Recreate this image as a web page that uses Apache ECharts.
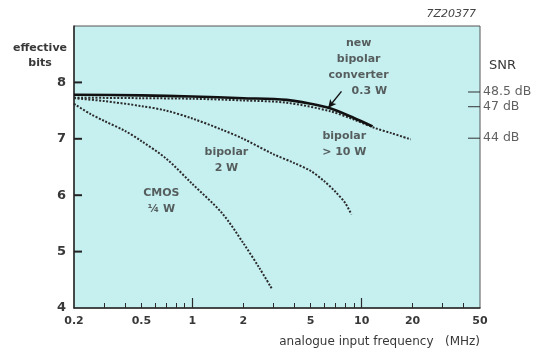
<!DOCTYPE html>
<html>
<head>
<meta charset="utf-8">
<script src="https://cdn.jsdelivr.net/npm/echarts@6/dist/echarts.min.js"></script>
<style>
  html, body { margin: 0; padding: 0; background: #ffffff; }
  #chart { width: 538px; height: 349px; }
</style>
</head>
<body>
<div id="chart"></div>
<script>
// Effective bits versus analogue input frequency (MHz)
const freqLabels = [0.2, 0.5, 1, 2, 5, 10, 20, 50];
const freqMinorTicks = [0.3, 0.4, 0.5, 0.6, 0.7, 0.8, 0.9, 2, 3, 4, 5, 6, 7, 8, 9, 20, 30, 40];
const freqMajorTicks = [1, 10];
const bitsTicks = [5, 6, 7, 8];

const newBipolarF = [0.2, 0.5, 1, 2, 3.6, 5, 6.5, 9, 11.6];
const newBipolarBits = [7.78, 7.77, 7.75, 7.72, 7.69, 7.62, 7.54, 7.37, 7.22];

const bipolarHighF = [0.2, 0.5, 1, 2, 3.6, 6.5, 9, 12, 15, 19.5];
const bipolarHighBits = [7.73, 7.72, 7.71, 7.68, 7.64, 7.49, 7.34, 7.19, 7.1, 6.99];

const bipolar2F = [0.2, 0.3, 0.5, 0.7, 1, 1.5, 2, 3, 4, 5, 6, 7, 8, 8.7];
const bipolar2Bits = [7.72, 7.67, 7.58, 7.5, 7.36, 7.16, 7.0, 6.73, 6.57, 6.43, 6.25, 6.06, 5.86, 5.66];

const cmosF = [0.2, 0.25, 0.3, 0.4, 0.5, 0.7, 1, 1.5, 2, 2.5, 2.95];
const cmosBits = [7.62, 7.44, 7.32, 7.14, 6.96, 6.65, 6.2, 5.68, 5.15, 4.7, 4.34];

// SNR scale on the right edge
const snrLabels = ['48.5 dB', '47 dB', '44 dB'];
const snrBits = [7.83, 7.57, 7.01];

// Curve captions
const noteText = ['new\nbipolar\nconverter', '0.3 W', 'bipolar\n> 10 W', 'bipolar\n2 W', 'CMOS\n¼ W'];
const noteF = [9.6, 11.1, 7.9, 1.59, 0.656];
const noteBits = [8.41, 7.84, 6.91, 6.62, 5.89];

// Pointer from "0.3 W" to the new converter curve
const arrowF = [7.6, 6.35];
const arrowBits = [7.84, 7.55];

const pairs = (xs, ys) => xs.map((x, i) => [x, ys[i]]);
const ink = '#2a2a2a';
const textInk = '#383838';
const font = 'DejaVu Sans';
const freqMin = freqLabels[0];
const freqMax = freqLabels[freqLabels.length - 1];

const chart = echarts.init(document.getElementById('chart'), null, { renderer: 'canvas' });

const dotted = (name, xs, ys) => ({
  name, type: 'line', data: pairs(xs, ys), showSymbol: false, smooth: 0.3,
  lineStyle: { color: ink, width: 2, type: [2, 1.6] }, z: 3
});

chart.setOption({
  animation: false,
  grid: {
    left: 74, right: 58, top: 26, bottom: 41,
    show: true, backgroundColor: '#c6eff0', borderColor: '#555', borderWidth: 1
  },
  xAxis: [
    {
      type: 'log', logBase: 10, min: freqMin, max: freqMax,
      axisLine: { show: true, lineStyle: { color: ink, width: 1.5 } },
      axisTick: { show: true, inside: true, length: 5, customValues: freqMinorTicks,
                  lineStyle: { color: ink, width: 1 } },
      axisLabel: { customValues: freqLabels, formatter: v => String(v), margin: 8,
                   color: textInk, fontFamily: font, fontSize: 11, fontWeight: 'bold' },
      splitLine: { show: false }, minorTick: { show: false }
    },
    {
      type: 'log', logBase: 10, min: freqMin, max: freqMax, position: 'bottom', offset: 0,
      axisLine: { show: false },
      axisTick: { show: true, inside: true, length: 10, customValues: freqMajorTicks,
                  lineStyle: { color: ink, width: 1.2 } },
      axisLabel: { show: false }, splitLine: { show: false }
    }
  ],
  yAxis: {
    type: 'value', min: 4, max: 9, interval: 1,
    axisLine: { show: true, lineStyle: { color: ink, width: 1.5 } },
    axisTick: { show: false },
    axisLabel: { formatter: v => (v === 9 ? '' : String(v)), margin: 8,
                 color: textInk, fontFamily: font, fontSize: 13, fontWeight: 'bold' },
    splitLine: { show: false }
  },
  series: [
    dotted('CMOS ¼ W', cmosF, cmosBits),
    dotted('bipolar 2 W', bipolar2F, bipolar2Bits),
    dotted('bipolar > 10 W', bipolarHighF, bipolarHighBits),
    {
      name: 'new bipolar converter 0.3 W', type: 'line', data: pairs(newBipolarF, newBipolarBits),
      showSymbol: false, smooth: 0.3, z: 4,
      lineStyle: { color: '#111', width: 2.6 },
      markLine: {
        silent: true, symbol: ['none', 'arrow'], symbolSize: [6, 8],
        lineStyle: { color: '#111', width: 1.4, type: 'solid' }, label: { show: false },
        data: [[{ coord: [arrowF[0], arrowBits[0]] }, { coord: [arrowF[1], arrowBits[1]] }]]
      }
    },
    {
      // bit-scale tick marks along the left edge, pointing into the plot
      name: 'bits ticks', type: 'scatter', clip: false, z: 10, silent: true,
      data: bitsTicks.map(b => ({ value: [freqMin, b] })),
      symbol: 'rect', symbolSize: [8, 2], symbolOffset: [4, 0],
      itemStyle: { color: '#222', opacity: 1 }
    },
    {
      name: 'SNR', type: 'scatter', clip: false, z: 5, silent: true,
      data: snrBits.map((b, i) => ({ value: [freqMax, b], name: snrLabels[i] })),
      symbol: 'rect', symbolSize: [12, 1.2], symbolOffset: [-6, 0],
      itemStyle: { color: ink },
      label: { show: true, position: 'right', distance: 3, formatter: p => p.name,
               color: textInk, fontFamily: font, fontSize: 12.5 }
    },
    {
      name: 'captions', type: 'scatter', clip: false, z: 6, symbolSize: 0, silent: true,
      data: noteText.map((t, i) => ({ value: [noteF[i], noteBits[i]], name: t })),
      label: { show: true, position: 'inside', formatter: p => p.name, align: 'center',
               verticalAlign: 'middle', lineHeight: 16,
               color: textInk, fontFamily: font, fontSize: 11, fontWeight: 'bold' }
    }
  ],
  graphic: [
    { type: 'text', x: 40, y: 41,
      style: { text: 'effective\nbits', align: 'center', fill: textInk, lineHeight: 15,
               font: 'bold 11px "DejaVu Sans"' } },
    { type: 'text', x: 489, y: 59,
      style: { text: 'SNR', fill: textInk, font: '13px "DejaVu Sans"' } },
    { type: 'text', x: 476, y: 9,
      style: { text: '7Z20377', align: 'right', fill: '#444', font: 'italic 11px "DejaVu Sans"' } },
    { type: 'text', x: 480, y: 336,
      style: { text: 'analogue input frequency   (MHz)', align: 'right', fill: textInk,
               font: '12px "DejaVu Sans"' } }
  ]
});
</script>
</body>
</html>
